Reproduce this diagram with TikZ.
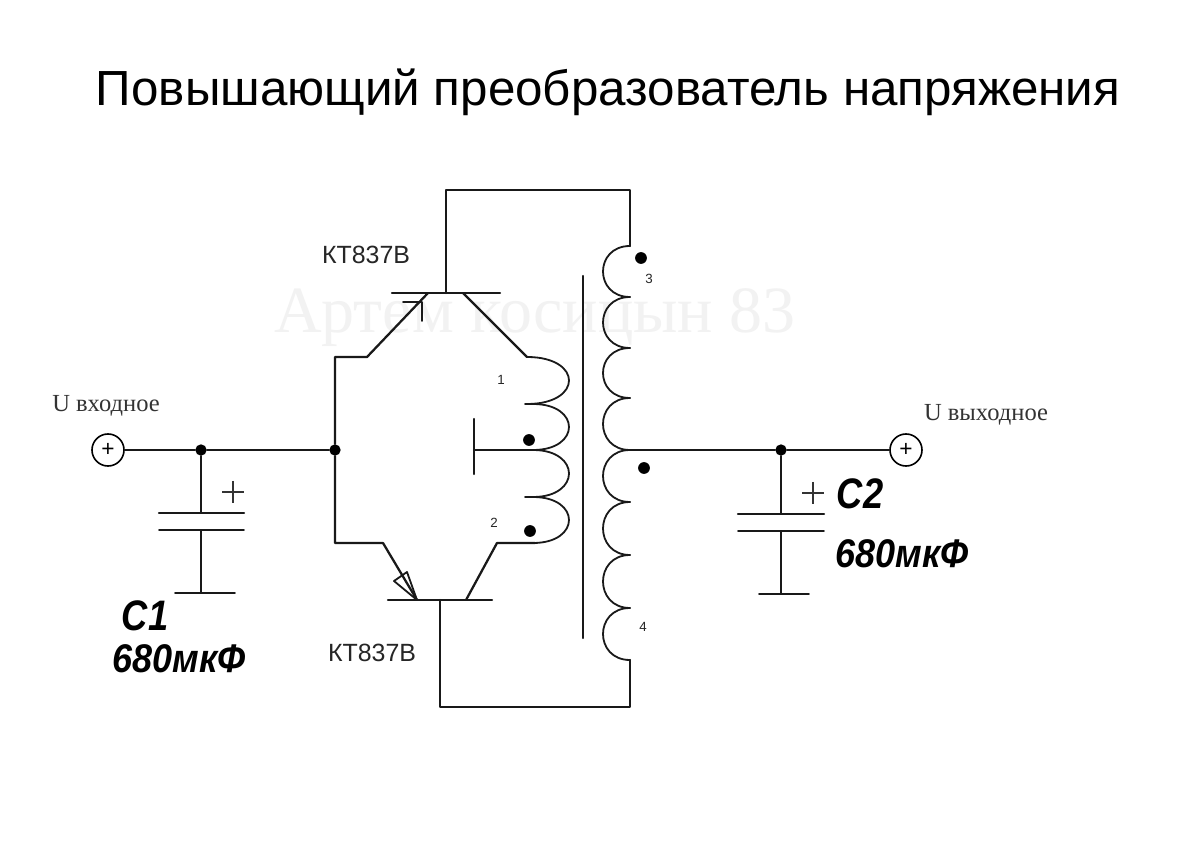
\documentclass[tikz,border=0pt]{standalone}
\usepackage{fontspec}
\setmainfont{Liberation Sans}
\newfontfamily\serifcyr{Liberation Serif}
\tikzset{
  x=0.75pt,y=-0.75pt,
  wire/.style={draw=black!90,line width=1.7pt,line cap=round,line join=round},
  thinwire/.style={draw=black!90,line width=1.35pt,line cap=round,line join=round},
  junction/.style={circle,fill=black,inner sep=0pt,minimum size=8.5pt},
  phasedot/.style={circle,fill=black,inner sep=0pt,minimum size=8.8pt},
  terminal/.style={circle,draw=black,line width=1.2pt,inner sep=0pt,minimum size=24pt,font=\fontsize{17}{17}\selectfont},
  title/.style={inner sep=0pt,font=\fontsize{37}{40}\selectfont},
  partlabel/.style={inner sep=0pt,text=black!85,font=\fontsize{18.7}{22}\selectfont},
  pinlabel/.style={inner sep=0pt,text=black!85,font=\fontsize{10}{12}\selectfont},
  ulabel/.style={inner sep=0pt,text=black!80,font=\serifcyr\fontsize{18.4}{22}\selectfont},
  caplabel/.style={inner sep=0pt,xscale=.85,font=\bfseries\itshape\fontsize{32}{36}\selectfont},
  cap2label/.style={inner sep=0pt,xscale=.9,font=\bfseries\itshape\fontsize{30}{32}\selectfont}
}
\newcommand{\coilR}[3]{\draw[thinwire] (#1,#2) .. controls (594,#2) and (594,#3) .. (#1,#3);}
\newcommand{\coilP}[4]{\draw[thinwire] (#1,#3) .. controls (#4,#3) and (#4,#2) .. (#1,#2);}
\begin{document}
\begin{tikzpicture}
\useasboundingbox (0,0) rectangle (1200,848);
\fill[white] (0,0) rectangle (1200,848);
% watermark
\node[inner sep=0pt,text=black!5,font=\serifcyr\fontsize{49.5}{54}\selectfont] (wm) at (535,318) {Артем косицын 83};
% title
\node[title] (ttl) at (608,92) {Повышающий преобразователь напряжения};
% coordinates
\coordinate (tl) at (446,190);
\coordinate (tr) at (630,190);
\coordinate (s1) at (630,246);
\coordinate (s4) at (630,660);
\coordinate (br) at (630,707);
\coordinate (bl) at (440,707);
\coordinate (qtb) at (446,293);
\coordinate (qbb) at (440,600);
\coordinate (qte) at (428,293);
\coordinate (qtc) at (463,293);
\coordinate (qbe) at (417,600);
\coordinate (qbc) at (466,600);
\node[junction] (j1) at (335,450) {};
\node[junction] (j2) at (201,450) {};
\node[junction] (j3) at (781,450) {};
\node[terminal] (tin) at (108,450) {+};
\node[terminal] (tout) at (906,450) {+};
% top and bottom loops
\draw[wire] (s1) -- (tr) -- (tl) -- (qtb);
\draw[wire] (s4) -- (br) -- (bl) -- (qbb);
% transistors
\draw[wire] (392,293) -- (500,293);
\draw[wire] (388,600) -- (492,600);
\draw[wire] (j1) |- (367,357) -- (qte);
\draw[wire] (j1) |- (383,543) -- (qbe);
\draw[wire] (qtc) -- (527,357);
\draw[wire] (qbc) -- (497,543) -- (535,543);
\draw[thinwire] (403,302) -- (422,302) -- (422,321);
\draw[thinwire] (qbe) -- (394,581) -- (407,572) -- cycle;
% secondary
\coilR{630}{246}{297}
\coilR{630}{297}{348}
\coilR{630}{348}{398}
\coilR{630}{398}{450}
\coilR{630}{450}{502}
\coilR{630}{502}{555}
\coilR{630}{555}{608}
\coilR{630}{608}{660}
% primary
\coilP{527}{357}{404}{583}
\coilP{533}{404}{450}{581}
\coilP{533}{450}{497}{581}
\coilP{533}{497}{543}{581}
\draw[thinwire] (525,404) -- (535,404);
\draw[thinwire] (525,497) -- (535,497);
\draw[wire] (474,419) -- (474,474);
\draw[wire] (474,450) -- (535,450);
% core
\draw[wire] (583,276) -- (583,638);
% main wires
\draw[thinwire] (tin) -- (j2) -- (j1);
\draw[thinwire] (630,450) -- (j3) -- (tout);
% C1
\draw[thinwire] (j2) -- (201,513);
\draw[wire] (159,513) -- (244,513);
\draw[thinwire] (159,530) -- (244,530);
\draw[thinwire] (201,530) -- (201,593);
\draw[thinwire] (175,593) -- (235,593);
\draw[draw=black!80,line width=.8pt] (222,492) -- (244,492) (233,481) -- (233,503);
% C2
\draw[thinwire] (j3) -- (781,514);
\draw[wire] (738,514) -- (824,514);
\draw[thinwire] (738,531) -- (824,531);
\draw[thinwire] (781,531) -- (781,594);
\draw[thinwire] (759,594) -- (809,594);
\draw[draw=black!80,line width=.8pt] (802,493) -- (824,493) (813,482) -- (813,504);
% phase dots
\node[phasedot] (d1) at (641,258) {};
\node[phasedot] (d2) at (529,440) {};
\node[phasedot] (d3) at (644,468) {};
\node[phasedot] (d4) at (530,531) {};
% labels
\node[partlabel] (l1) at (366,255) {КТ837В};
\node[partlabel] (l2) at (372,653) {КТ837В};
\node[pinlabel] (p1) at (501,380) {1};
\node[pinlabel] (p2) at (494,523) {2};
\node[pinlabel] (p3) at (649,279) {3};
\node[pinlabel] (p4) at (643,627) {4};
\node[ulabel] (u1) at (106,406) {U входное};
\node[ulabel] (u2) at (986,415) {U выходное};
\node[caplabel] (c1) at (145,616) {C1};
\node[cap2label] (c1v) at (179,659) {680мкФ};
\node[caplabel] (c2) at (860,494) {C2};
\node[cap2label] (c2v) at (902,554) {680мкФ};
\end{tikzpicture}
\end{document}
